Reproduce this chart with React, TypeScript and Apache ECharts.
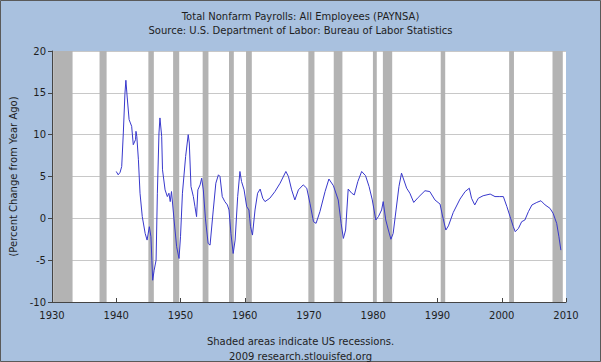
import React, { useEffect, useRef } from "react";
import * as echarts from "echarts";

const titleText = "Total Nonfarm Payrolls: All Employees (PAYNSA)";
const subtitleText = "Source: U.S. Department of Labor: Bureau of Labor Statistics";
const footer1 = "Shaded areas indicate US recessions.";
const footer2 = "2009 research.stlouisfed.org";
const yAxisName = "(Percent Change from Year Ago)";

const years = [
  1940.0, 1940.3, 1940.6, 1940.85, 1941.1, 1941.35, 1941.5, 1941.7, 1942.0, 1942.2,
  1942.4, 1942.65, 1943.0, 1943.07, 1943.2, 1943.45, 1943.7, 1944.05, 1944.5, 1944.8,
  1945.15, 1945.4, 1945.67, 1945.9, 1946.2, 1946.4, 1946.65, 1946.8, 1947.07, 1947.2,
  1947.6, 1947.95, 1948.2, 1948.4, 1948.6, 1949.0, 1949.4, 1949.77, 1950.0, 1950.3,
  1950.8, 1951.2, 1951.37, 1951.63, 1952.0, 1952.25, 1952.5, 1952.7, 1953.05, 1953.3,
  1953.55, 1953.9, 1954.3, 1954.6, 1955.1, 1955.5, 1955.9, 1956.15, 1956.5, 1956.9,
  1957.3, 1957.55, 1957.85, 1958.2, 1958.5, 1958.9, 1959.25, 1959.5, 1959.9, 1960.3,
  1960.65, 1960.9, 1961.2, 1961.6, 1962.0, 1962.4, 1962.8, 1963.15, 1963.9, 1964.7,
  1965.5, 1966.4, 1966.8, 1967.3, 1967.8, 1968.35, 1969.1, 1969.65, 1970.15, 1970.7,
  1971.1, 1971.7, 1972.5, 1973.1, 1973.8, 1974.55, 1975.0, 1975.35, 1975.7, 1976.1,
  1976.65, 1977.05, 1977.6, 1978.2, 1978.8, 1979.35, 1979.85, 1980.4, 1980.8, 1981.3,
  1981.55, 1981.95, 1982.35, 1982.75, 1983.1, 1983.55, 1984.0, 1984.4, 1985.2, 1985.7,
  1986.3, 1987.0, 1988.05, 1988.8, 1989.6, 1990.4, 1990.75, 1991.3, 1991.7, 1992.45,
  1993.5, 1994.3, 1994.95, 1995.3, 1995.8, 1996.35, 1997.1, 1998.2, 1998.95, 1999.7,
  2000.25, 2000.8, 2001.3, 2001.8, 2002.1, 2002.6, 2003.1, 2003.6, 2004.15, 2004.7,
  2005.45, 2006.1, 2006.75, 2007.5, 2008.0, 2008.55, 2008.9, 2009.2,
];

const values = [
  5.6, 5.2, 5.5, 6.2, 10.2, 14.9, 16.5, 14.5, 11.8, 11.4,
  11.0, 8.8, 9.4, 10.4, 9.8, 7.0, 3.0, 0.2, -1.8, -2.6,
  -1.0, -2.2, -7.4, -6.2, -5.0, 3.0, 10.2, 12.0, 9.8, 5.8,
  3.4, 2.6, 3.0, 2.0, 3.2, -0.2, -3.4, -4.8, -2.2, 3.0,
  7.4, 10.0, 9.0, 3.8, 2.6, 1.4, 0.2, 3.4, 4.0, 4.8,
  3.4, -0.2, -3.0, -3.2, 1.0, 4.2, 5.2, 5.0, 2.6, 2.0,
  1.6, 1.0, -1.8, -4.2, -2.6, 2.6, 5.6, 4.4, 3.4, 1.4,
  1.0, -1.0, -2.0, 1.0, 3.0, 3.5, 2.4, 2.0, 2.4, 3.2,
  4.2, 5.6, 5.0, 3.4, 2.2, 3.4, 4.0, 3.6, 1.8, -0.4,
  -0.6, 0.8, 3.2, 4.7, 3.9, 2.2, -0.6, -2.4, -1.4, 3.5,
  3.0, 2.8, 4.4, 5.6, 5.1, 3.8, 2.2, -0.2, 0.2, 1.0,
  2.0, -0.2, -1.4, -2.5, -1.8, 1.0, 3.8, 5.4, 3.6, 3.0,
  1.9, 2.5, 3.3, 3.2, 2.2, 1.7, 0.4, -1.4, -0.9, 0.7,
  2.3, 3.2, 3.6, 2.4, 1.6, 2.4, 2.7, 2.9, 2.6, 2.6,
  2.6, 1.4, 0.2, -1.0, -1.6, -1.2, -0.4, -0.2, 0.8, 1.6,
  1.9, 2.1, 1.6, 1.2, 0.6, -0.6, -2.2, -3.8,
];

const recessionStarts = [1930.18, 1937.4, 1945.0, 1948.85, 1953.45, 1957.55, 1960.2, 1969.9, 1973.85, 1979.95, 1981.5, 1990.5, 2001.15, 2007.9];
const recessionEnds = [1933.2, 1938.5, 1945.85, 1949.8, 1954.35, 1958.3, 1961.1, 1970.85, 1975.2, 1980.55, 1982.95, 1991.2, 2001.9, 2009.5];

const FONT = "DejaVu Sans";

export default function App() {
  const ref = useRef<HTMLDivElement>(null);
  useEffect(() => {
    document.body.style.margin = "0";
    if (!ref.current) return;
    const chart = echarts.init(ref.current, undefined, { renderer: "svg" });
    const data = years.map((y, i) => [y, values[i]]);
    const areas = recessionStarts.map((s, i) => [{ xAxis: s }, { xAxis: recessionEnds[i] }]);
    const txt = { fontSize: 10, fontWeight: "normal", color: "#1e1e1e", fontFamily: FONT };
    chart.setOption({
      animation: false,
      backgroundColor: "#a9c1df",
      textStyle: { fontFamily: FONT },
      title: [
        { text: titleText, left: "center", top: 6, textStyle: txt },
        { text: subtitleText, left: "center", top: 20, textStyle: txt },
        { text: footer1, left: "center", top: 331, textStyle: txt },
        { text: footer2, left: "center", top: 346, textStyle: txt },
      ],
      grid: { left: 52, right: 35, top: 51, bottom: 60, show: true, backgroundColor: "#ffffff", borderWidth: 0 },
      xAxis: {
        type: "value",
        min: 1930,
        max: 2010,
        interval: 10,
        axisLine: { show: true, onZero: false, lineStyle: { color: "#444", width: 1 } },
        axisTick: { show: true, inside: true, length: 4, lineStyle: { color: "#444" } },
        axisLabel: { color: "#1e1e1e", fontSize: 10, fontFamily: FONT, margin: 8, formatter: (v: number) => String(v) },
        splitLine: { show: false },
      },
      yAxis: {
        type: "value",
        min: -10,
        max: 20,
        interval: 5,
        name: yAxisName,
        nameLocation: "middle",
        nameGap: 33,
        nameTextStyle: { color: "#1e1e1e", fontSize: 10, fontFamily: FONT },
        axisLine: { show: true, onZero: false, lineStyle: { color: "#444", width: 1 } },
        axisTick: { show: true, inside: false, length: 4, lineStyle: { color: "#444" } },
        axisLabel: { color: "#1e1e1e", fontSize: 10, fontFamily: FONT, margin: 6 },
        splitLine: { show: true, lineStyle: { color: "#c8c8c8", width: 1 } },
      },
      series: [
        {
          type: "line",
          data,
          showSymbol: false,
          symbol: "none",
          lineStyle: { color: "#3838cc", width: 1 },
          itemStyle: { color: "#3838cc" },
          markArea: {
            silent: true,
            itemStyle: { color: "#b3b3b3", opacity: 1 },
            data: areas,
          },
        },
      ],
      graphic: [
        {
          type: "rect",
          shape: { x: 0.5, y: 0.5, width: 600, height: 361 },
          style: { fill: "none", stroke: "#5a5a5a", lineWidth: 1 },
          silent: true,
        },
      ],
    });
    return () => chart.dispose();
  }, []);
  return <div ref={ref} style={{ width: 601, height: 362 }} />;
}
